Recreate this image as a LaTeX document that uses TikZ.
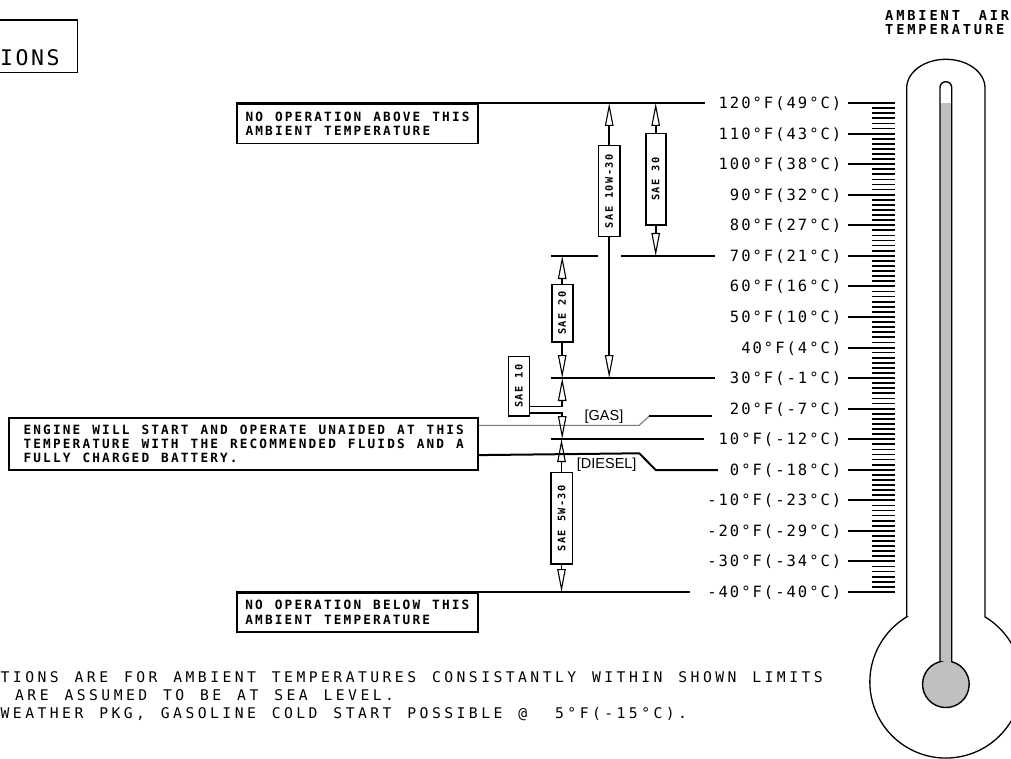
\documentclass[tikz,border=0pt]{standalone}
\usepackage{fontspec}
\setmainfont{Liberation Sans}
\newfontfamily\tempfont[LetterSpace=12.9]{DejaVu Sans Mono}
\newfontfamily\botfont[LetterSpace=23.5]{DejaVu Sans Mono}
\newfontfamily\titlefont[LetterSpace=11.9]{DejaVu Sans Mono}
\newfontfamily\notefont[LetterSpace=16.9]{DejaVu Sans Mono}
\newfontfamily\hdrfont[LetterSpace=20.8,WordSpace=1.69]{DejaVu Sans Mono}
\newfontfamily\saefont[LetterSpace=13.6]{DejaVu Sans Mono}
\frenchspacing
\usetikzlibrary{arrows.meta}
\definecolor{tgray}{RGB}{192,192,192}
\definecolor{lgray}{RGB}{120,120,120}
\begin{document}
\begin{tikzpicture}[x=1pt,y=-1pt,
  hline/.style={line width=2pt},
  tickl/.style={line width=1.7pt},
  temp/.style={font=\tempfont\fontsize{15.5}{18}\selectfont, inner sep=0pt, text height=11.3pt, text depth=0pt, anchor=east},
  note/.style={draw, line width=1.8pt, font={\notefont\bfseries\fontsize{12.75}{14.5}\selectfont\spaceskip=12pt\relax}, align=left, inner sep=0pt, anchor=north west},
  saebox/.style={draw, line width=1.6pt, fill=white, font={\saefont\bfseries\fontsize{10.3}{11}\selectfont\spaceskip=8pt\relax}, inner sep=0pt, rotate=90},
  conn/.style={line width=1.6pt, -{Triangle[open, length=23pt, width=8.5pt, line width=1.1pt]}},
  fuel/.style={font=\fontsize{14.5}{16}\selectfont, inner sep=0pt},
  bottomtxt/.style={font={\botfont\fontsize{14.7}{18}\selectfont\spaceskip=15.9pt\relax}, inner sep=0pt, text height=10.7pt, text depth=0pt, anchor=west},
  hdr/.style={font=\hdrfont\bfseries\fontsize{13.7}{14.3}\selectfont, inner sep=0pt, align=left, anchor=north west}
]
\useasboundingbox (0,0) rectangle (1011,759);

% title box (cut off)
\node[draw, line width=1.8pt, anchor=north east, minimum width=90pt, minimum height=52.4pt, inner sep=0pt] (titlebox) at (78.3,19.3) {};
\node[font=\titlefont\fontsize{21.5}{24}\selectfont, inner sep=0pt, text height=15.7pt, text depth=0pt, anchor=west] (titletxt) at (0,57.8) {IONS};

% header
\node[hdr] (hdr) at (885,10.5) {AMBIENT AIR\\TEMPERATURE};

% temperature labels
\foreach \lab [count=\i from 0] in {120°F(49°C),110°F(43°C),100°F(38°C),90°F(32°C),80°F(27°C),70°F(21°C),60°F(16°C),50°F(10°C),40°F(4°C),30°F(-1°C),20°F(-7°C),10°F(-12°C),0°F(-18°C),-10°F(-23°C),-20°F(-29°C),-30°F(-34°C),-40°F(-40°C)}
  {\pgfmathsetmacro\yy{round(103+\i*30.5625)}
   \node[temp] (t\i) at (841.5,\yy) {\lab};
   \draw[hline] (848,\yy) -- (895,\yy);}

% fine scale ticks
\foreach \k in {0,...,96}
  \draw[tickl] (872,{103+\k*5.09375}) -- (895,{103+\k*5.09375});

% thermometer
\fill[tgray] (940,103) rectangle (951.7,670);
\fill[tgray] (945.85,684.3) circle[radius=23.3];
\draw[line width=1.4pt] (940,661.7) -- (940,87.55) arc[start angle=180,end angle=360,radius=5.85] -- (951.7,661.7) arc[start angle=-75.5,end angle=255.5,radius=23.3] -- cycle;
\draw[line width=1.3pt] (906.7,616.9) -- (906.7,88) arc[start angle=180,end angle=360,x radius=39.15,y radius=28.7] -- (985,616.9) arc[start angle=-59,end angle=239,radius=76] -- cycle;

% note boxes
\node[note, minimum width=241.3pt, minimum height=39.6pt] (above) at (236,103) {NO OPERATION ABOVE THIS\\AMBIENT TEMPERATURE};
\node[note, minimum width=241pt, minimum height=38.7pt] (below) at (236,592) {NO OPERATION BELOW THIS\\AMBIENT TEMPERATURE};
\node[note, minimum width=469pt, minimum height=52pt, font={\notefont\bfseries\fontsize{12.75}{14}\selectfont\spaceskip=12pt\relax}] (engine) at (8.3,417.3) {ENGINE WILL START AND OPERATE UNAIDED AT THIS\\TEMPERATURE WITH THE RECOMMENDED FLUIDS AND A\\FULLY CHARGED BATTERY.};

% SAE boxes
\node[saebox, minimum width=91pt, minimum height=21.7pt] (s1030) at (609.2,191.2) {SAE 10W-30};
\node[saebox, minimum width=91.7pt, minimum height=20pt] (s30) at (655.7,179.2) {SAE 30};
\node[saebox, minimum width=57.4pt, minimum height=21pt] (s20) at (562.2,313) {SAE 20};
\node[saebox, minimum width=59.5pt, minimum height=21pt] (s10) at (518.8,386.3) {SAE 10};
\node[saebox, minimum width=91.7pt, minimum height=21.6pt] (s530) at (561.5,518.2) {SAE 5W-30};

% horizontal level lines
\draw[hline] (above.north west) -- ([xshift=-13pt]t0.west);
\draw[hline] (s20.north |- t5.west) -- (s1030.north |- t5.west);
\draw[hline] (s1030.south |- t5.west) -- ([xshift=-15pt]t5.west);
\draw[hline] (s20.north |- t9.west) -- ([xshift=-15pt]t9.west);
\draw[hline] (s20.north |- t11.west) -- ([xshift=-14pt]t11.west);
\draw[hline] (below.north west) -- ([xshift=-17pt]t16.west);

% gas / diesel
\coordinate (g1) at (639.3,425.3);
\coordinate (g2) at (649.3,416);
\coordinate (g3) at ([xshift=-18pt]t10.west);
\coordinate (d1) at (639.3,453.3);
\coordinate (d2) at (655.7,470);
\draw[lgray, line width=1.1pt] ([yshift=-8pt]engine.north east) -- (g1) -- (g2);
\draw[hline] (g2) -- (g2 -| g3);
\draw[hline] ([yshift=16pt]engine.south east) -- (d1) -- (d2) -- ([xshift=-12pt]t12.west);
\node[fuel] (gas) at (604,416.5) {[GAS]};
\node[fuel] (diesel) at (606.7,465) {[DIESEL]};

% SAE range arrows
\draw[conn] (s1030.east) -- (s1030.east |- t0.west);
\draw[conn] (s1030.west) -- (s1030.west |- t9.west);
\draw[conn] (s30.east) -- (s30.east |- t0.west);
\draw[conn] (s30.west) -- (s30.west |- t5.west);
\draw[conn] (s20.east) -- (s20.east |- t5.west);
\draw[conn] (s20.west) -- (s20.west |- t9.west);
\draw[conn] ([yshift=10.5pt]s10.south west) -| (s20.center |- t9.west);
\draw[conn] ([yshift=4pt]s10.south west) -| (s20.center |- t11.west);
\draw[conn] (s530.east) -- (s530.east |- t11.west);
\draw[conn] (s530.west) -- (s530.west |- t16.west);

% bottom notes
\node[bottomtxt] (n1) at (0.5,677.5) {TIONS ARE FOR AMBIENT TEMPERATURES CONSISTANTLY WITHIN SHOWN LIMITS};
\node[bottomtxt] (n2) at (15,695.5) {ARE ASSUMED TO BE AT SEA LEVEL.};
\node[bottomtxt] (n3) at (0.5,713.5) {WEATHER PKG, GASOLINE COLD START POSSIBLE @\hspace{28pt}5°F(-15°C).};
\end{tikzpicture}
\end{document}
